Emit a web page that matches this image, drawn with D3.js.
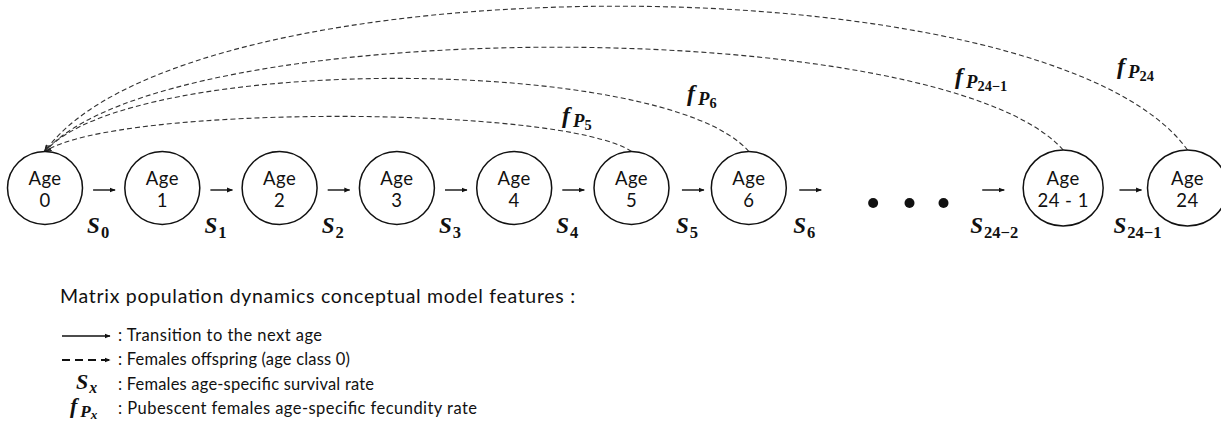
<!DOCTYPE html>
<html>
<head>
<meta charset="utf-8">
<script src="https://cdn.jsdelivr.net/npm/d3@7"></script>
<style>
  body { margin: 0; background: #fff; }
  svg { display: block; }
  .sans { font-family: Lato, "Open Sans", sans-serif; fill: #111; }
  .math { font-family: "Liberation Serif", serif; font-weight: bold; font-style: italic; fill: #111; }
</style>
</head>
<body>
<div id="chart"></div>
<script>
// age classes drawn as nodes (first line / second line)
const nodeTitles = ["Age", "Age", "Age", "Age", "Age", "Age", "Age", "Age", "Age"];
const nodeAges = ["0", "1", "2", "3", "4", "5", "6", "24 - 1", "24"];

// survival rates S_x shown under each transition arrow
const survivalSubs = ["0", "1", "2", "3", "4", "5", "6", "24\u22122", "24\u22121"];

// fecundity arcs f_P(x): index of the source node and its subscript
const fecundityNodes = [5, 6, 7, 8];
const fecunditySubs = ["5", "6", "24\u22121", "24"];

// legend rows
const legendTitle = "Matrix population dynamics conceptual model features :";
const legendTexts = [
  ": Transition to the next age",
  ": Females offspring (age class 0)",
  ": Females age-specific survival rate",
  ": Pubescent females age-specific fecundity rate"
];

// layout (slot positions along the chain, not data)
const nodeSlots = [0, 1, 2, 3, 4, 5, 6, 8.68, 9.74];
const arrowSlots = [0.41, 1.41, 2.41, 3.41, 4.41, 5.43, 6.43, 7.99, 9.16];
const dotSlots = [7.06, 7.37, 7.66];
const arcPeaks = [116, 78, 47, 6];
const labelPos = [[562, 123], [687, 101], [955, 84], [1117, 74]];
const legendWidths = [204, 232, 256, 359];

const W = 1221, H = 434;
const cy = 188;

const x = d3.scaleLinear().domain([0, 1]).range([45, 162.3]);

const svg = d3.select("#chart").append("svg")
    .attr("width", W)
    .attr("height", H);

const defs = svg.append("defs");
defs.append("marker")
    .attr("id", "head")
    .attr("viewBox", "0 0 10 10")
    .attr("refX", 9).attr("refY", 5)
    .attr("markerWidth", 6).attr("markerHeight", 6)
    .attr("markerUnits", "userSpaceOnUse")
    .attr("orient", "auto")
    .append("path").attr("d", "M0,1 L10,5 L0,9 Z").attr("fill", "#111");
defs.append("marker")
    .attr("id", "headSmall")
    .attr("viewBox", "0 0 10 10")
    .attr("refX", 9).attr("refY", 5)
    .attr("markerWidth", 7).attr("markerHeight", 7)
    .attr("markerUnits", "userSpaceOnUse")
    .attr("orient", "auto")
    .append("path").attr("d", "M0,1 L10,5 L0,9").attr("fill", "none")
    .attr("stroke", "#222").attr("stroke-width", 1.6);

// letters stay italic in subscripts, digits are upright
const subStyle = s => /[a-z]/.test(s) ? "italic" : "normal";

// math label helper: main letter + subscript (+ optional sub-subscript)
function mathLabel(g, px, py, main, sub, subsub, size) {
  const t = g.append("text").attr("class", "math")
      .attr("x", px).attr("y", py)
      .style("font-size", size + "px");
  t.append("tspan").text(main);
  if (subsub == null) {
    t.append("tspan").attr("dx", 1).attr("dy", size * 0.2)
        .style("font-size", (size * 0.72) + "px")
        .style("font-style", subStyle(sub))
        .text(sub);
  } else {
    t.append("tspan").attr("dx", 3).attr("dy", size * 0.16)
        .style("font-size", (size * 0.78) + "px")
        .text(sub);
    t.append("tspan").attr("dy", size * 0.12)
        .style("font-size", (size * 0.6) + "px")
        .style("font-style", subStyle(subsub))
        .text(subsub);
  }
  return t;
}

// ---- dashed fecundity arcs (drawn first, under the nodes)
const arcs = svg.append("g");
fecundityNodes.forEach(function(ni, i) {
  const xk = x(nodeSlots[ni]);
  const x0 = x(0);
  const d = xk - x0;
  const yStart = cy - (ni >= 7 ? 38 : 36.5);
  const Y = 150 + (arcPeaks[i] - 150) / 0.75;
  const p = d3.path();
  p.moveTo(xk, yStart);
  p.bezierCurveTo(xk - 0.12 * d, Y, x0 + 0.12 * d, Y, x0, cy - 36.5);
  arcs.append("path")
      .attr("d", p.toString())
      .attr("fill", "none")
      .attr("stroke", "#333")
      .attr("stroke-width", 1.1)
      .attr("stroke-dasharray", "5,3")
      .attr("marker-end", "url(#headSmall)");
  mathLabel(arcs, labelPos[i][0], labelPos[i][1], "f", "P", fecunditySubs[i], 24);
});

// ---- nodes
const nodes = svg.append("g").selectAll("g")
    .data(nodeAges)
    .join("g")
    .attr("transform", (d, i) => `translate(${x(nodeSlots[i])},${cy})`);

nodes.append("ellipse")
    .attr("rx", (d, i) => i >= 7 ? 40 : 37.5)
    .attr("ry", (d, i) => i >= 7 ? 38 : 36.5)
    .attr("fill", "#fff")
    .attr("stroke", "#111")
    .attr("stroke-width", 1.5);

nodes.append("text").attr("class", "sans")
    .attr("text-anchor", "middle")
    .attr("y", -3)
    .style("font-size", "18.5px")
    .style("letter-spacing", "0.5px")
    .text((d, i) => nodeTitles[i]);

nodes.append("text").attr("class", "sans")
    .attr("text-anchor", "middle")
    .attr("y", 19)
    .style("font-size", "18.5px")
    .style("letter-spacing", "0.5px")
    .text(d => d);

// ---- transition arrows and survival labels
const trans = svg.append("g");
survivalSubs.forEach(function(s, i) {
  const ax = x(arrowSlots[i]);
  trans.append("line")
      .attr("x1", ax).attr("x2", ax + 22)
      .attr("y1", cy + 2).attr("y2", cy + 2)
      .attr("stroke", "#111")
      .attr("stroke-width", 1.4)
      .attr("marker-end", "url(#head)");
  mathLabel(trans, ax - (i === 7 ? 12 : 6), 233, "S", s, null, 23);
});

// ---- ellipsis dots
svg.append("g").selectAll("circle")
    .data(dotSlots)
    .join("circle")
    .attr("cx", d => x(d))
    .attr("cy", 203)
    .attr("r", 5)
    .attr("fill", "#111");

// ---- legend
const legend = svg.append("g");
legend.append("text").attr("class", "sans")
    .attr("x", 60).attr("y", 303)
    .style("font-size", "19.5px")
    .attr("textLength", 515)
    .attr("lengthAdjust", "spacing")
    .text(legendTitle);

const rowY = [341, 365, 390, 414];
legend.selectAll("text.item")
    .data(legendTexts)
    .join("text")
    .attr("class", "sans item")
    .attr("x", 118)
    .attr("y", (d, i) => rowY[i])
    .style("font-size", "16.5px")
    .attr("textLength", (d, i) => legendWidths[i])
    .attr("lengthAdjust", "spacing")
    .text(d => d);

legend.append("line")
    .attr("x1", 62).attr("x2", 110)
    .attr("y1", rowY[0] - 5).attr("y2", rowY[0] - 5)
    .attr("stroke", "#111").attr("stroke-width", 1.4)
    .attr("marker-end", "url(#head)");
legend.append("line")
    .attr("x1", 62).attr("x2", 110)
    .attr("y1", rowY[1] - 5).attr("y2", rowY[1] - 5)
    .attr("stroke", "#111").attr("stroke-width", 2)
    .attr("stroke-dasharray", "8,5")
    .attr("marker-end", "url(#head)");
mathLabel(legend, 76, rowY[2] - 1, "S", "x", null, 22);
mathLabel(legend, 70, rowY[3] - 1, "f", "P", "x", 22);
</script>
</body>
</html>
